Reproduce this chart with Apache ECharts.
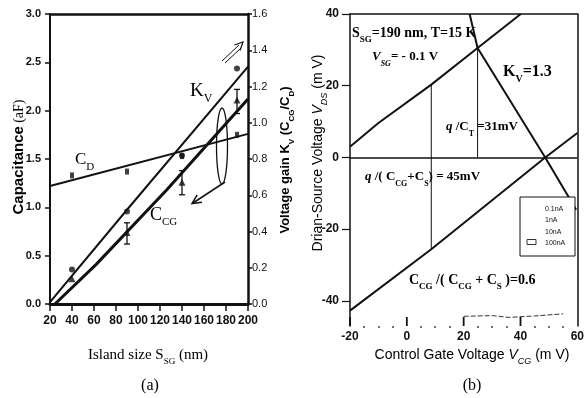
<!DOCTYPE html>
<html><head><meta charset="utf-8">
<script src="https://cdn.jsdelivr.net/npm/echarts@6/dist/echarts.min.js"></script>
<style>html,body{margin:0;padding:0;background:#fff}#c{width:587px;height:398px}</style>
</head><body><div id="c"></div>
<script>
// ---------- Panel (a) data ----------
const islandTicks = [20, 40, 60, 80, 100, 120, 140, 160, 180, 200];
const cdLine = [[20, 1.22], [200, 1.76]];
const kvLine = [[20, 0.01], [90, 0.52], [200, 1.31]];          // right axis (K_V)
const ccgLine = [[24.5, 0], [62, 0.41], [126, 1.18], [200, 2.12]];
const cdPoints = [[40, 1.33], [90, 1.37], [140, 1.53], [190, 1.75]];
const kvPoints = [[40, 0.19], [90, 0.51], [140, 0.82], [190, 1.30]]; // right axis
const ccgPoints = [[40, 0.26], [90, 0.74], [140, 1.26], [190, 2.11]];
const ccgErrors = [[90, 0.62, 0.84], [140, 1.13, 1.38], [190, 1.97, 2.22]];

// ---------- Panel (b) data ----------
const vdsTicks = [-40, -20, 0, 20, 40];
const vcgTicks = [-20, 0, 20, 40];
const riseUpper = [[-20, 3.0], [-10, 9.6], [8.6, 20.3], [24.9, 30.5], [40.1, 40]];
const riseLower = [[-20, -42.7], [8.6, -25.6], [48.7, 0], [60, 6.8]];
const fallLine = [[22.1, 40], [24.9, 30.5], [48.7, 0], [59.6, -14.6]];
const vLineA = [[8.6, 20.3], [8.6, -25.6]];
const vLineB = [[24.9, 30.5], [24.9, 0]];
const bottomTrace = [[20, -44.3], [30, -44.1], [36, -44.6], [45, -44.2], [55, -43.6]];
const legendItems = ['0.1nA', '1nA', '10nA', '100nA'];

const chart = echarts.init(document.getElementById('c'), null, {renderer: 'canvas'});
const K = '#111';
const narrow = '"Liberation Sans Narrow", "Arial Narrow", sans-serif';
const sans = '"Liberation Sans", Arial, sans-serif';
const serif = '"Liberation Serif", "Times New Roman", serif';
const VDS_MIN = -47;

function subRich(fs, family, weight, style) {
  return {
    n: {fontSize: fs, fontFamily: family, fontWeight: weight, fontStyle: style || 'normal', color: K, lineHeight: fs + 8, verticalAlign: 'middle'},
    i: {fontSize: fs, fontFamily: family, fontWeight: weight, fontStyle: 'italic', color: K, lineHeight: fs + 8, verticalAlign: 'middle'},
    s: {fontSize: Math.round(fs * 0.62), fontFamily: family, fontWeight: weight, fontStyle: style || 'normal', color: K, verticalAlign: 'bottom', lineHeight: fs * 0.62 + 2},
    si: {fontSize: Math.round(fs * 0.62), fontFamily: family, fontWeight: weight, fontStyle: 'italic', color: K, verticalAlign: 'bottom', lineHeight: fs * 0.62 + 2}
  };
}
function txt(x, y, text, rich, opts) {
  return Object.assign({type: 'text', x: x, y: y, silent: true,
    style: {text: text, rich: rich, x: 0, y: 0, textAlign: (opts && opts.align) || 'left', textVerticalAlign: 'middle'}}, opts && opts.rot ? {rotation: opts.rot} : {});
}
function arrowHead(tip, from, len, ang) {
  const dx = from[0] - tip[0], dy = from[1] - tip[1];
  const L = Math.hypot(dx, dy), ux = dx / L, uy = dy / L;
  const r = (a) => [tip[0] + len * (ux * Math.cos(a) - uy * Math.sin(a)), tip[1] + len * (ux * Math.sin(a) + uy * Math.cos(a))];
  return [r(ang), tip, r(-ang)];
}

const lineS = (data, xi, yi, w, extra) => Object.assign({type: 'line', xAxisIndex: xi, yAxisIndex: yi, data: data, symbol: 'none', silent: true,
  lineStyle: {color: K, width: w}, z: 3, animation: false}, extra || {});

const option = {
  animation: false,
  grid: [
    {left: 50, right: 339, top: 14, bottom: 94},
    {left: 350, right: 4, top: 14, bottom: 72}
  ],
  xAxis: [
    {gridIndex: 0, type: 'value', min: 20, max: 200, interval: 20,
      axisLine: {onZero: false, lineStyle: {color: K, width: 3}}, axisTick: {show: true, length: 7, lineStyle: {color: K, width: 1.5}},
      axisLabel: {color: K, fontFamily: narrow, fontWeight: 'bold', fontSize: 12, margin: 11, customValues: islandTicks}, splitLine: {show: false}},
    {gridIndex: 1, type: 'value', min: -20, max: 60, interval: 20,
      axisLine: {onZero: false, show: false}, axisTick: {show: false},
      minorTick: {show: true, splitNumber: 4, length: 2, lineStyle: {color: '#444', width: 1.5}},
      axisLabel: {color: K, fontFamily: narrow, fontWeight: 'bold', fontSize: 12, margin: 5}, splitLine: {show: false}},
    {gridIndex: 0, type: 'value', position: 'top', min: 20, max: 200,
      axisLine: {onZero: false, lineStyle: {color: K, width: 2.5}}, axisTick: {show: false}, axisLabel: {show: false}, splitLine: {show: false}},
    {gridIndex: 1, type: 'value', position: 'top', min: -20, max: 60,
      axisLine: {onZero: false, lineStyle: {color: K, width: 1.5}}, axisTick: {show: false}, axisLabel: {show: false}, splitLine: {show: false}}
  ],
  yAxis: [
    {gridIndex: 0, type: 'value', min: 0, max: 3, interval: 0.5,
      axisLine: {onZero: false, lineStyle: {color: K, width: 2}}, axisTick: {show: true, length: 5, lineStyle: {color: K, width: 1.5}},
      axisLabel: {color: K, fontFamily: narrow, fontWeight: 'bold', fontSize: 11, margin: 9, formatter: v => v.toFixed(1)}, splitLine: {show: false}},
    {gridIndex: 0, type: 'value', position: 'right', min: 0, max: 1.6, interval: 0.2,
      axisLine: {onZero: false, lineStyle: {color: K, width: 2.5}}, axisTick: {show: true, length: 4, lineStyle: {color: K, width: 1.5}},
      axisLabel: {color: K, fontFamily: narrow, fontSize: 11, margin: 4, formatter: v => v.toFixed(1)}, splitLine: {show: false}},
    {gridIndex: 1, type: 'value', min: VDS_MIN, max: 40,
      axisLine: {onZero: false, lineStyle: {color: K, width: 1.5}}, axisTick: {show: true, length: 8, customValues: vdsTicks, lineStyle: {color: K, width: 1.2}},
      axisLabel: {color: K, fontFamily: narrow, fontWeight: 'bold', fontSize: 12, margin: 11, customValues: vdsTicks}, splitLine: {show: false}},
    {gridIndex: 1, type: 'value', position: 'right', min: VDS_MIN, max: 40,
      axisLine: {onZero: false, lineStyle: {color: K, width: 1.5}}, axisTick: {show: false}, axisLabel: {show: false}, splitLine: {show: false}}
  ],
  series: [
    lineS(cdLine, 0, 0, 2),
    lineS(kvLine, 0, 1, 2),
    lineS(ccgLine, 0, 0, 3),
    {type: 'scatter', xAxisIndex: 0, yAxisIndex: 0, data: cdPoints, symbol: 'rect', symbolSize: [4, 6], itemStyle: {color: K}, z: 4, silent: true},
    {type: 'scatter', xAxisIndex: 0, yAxisIndex: 1, data: kvPoints, symbol: 'circle', symbolSize: 6, itemStyle: {color: K}, z: 4, silent: true},
    {type: 'scatter', xAxisIndex: 0, yAxisIndex: 0, data: ccgPoints, symbol: 'triangle', symbolSize: 7, itemStyle: {color: K}, z: 4, silent: true},
    {type: 'custom', xAxisIndex: 0, yAxisIndex: 0, data: ccgErrors, silent: true, z: 4,
      renderItem: function (params, api) {
        const x = api.value(0), lo = api.coord([x, api.value(1)]), hi = api.coord([x, api.value(2)]);
        const st = {stroke: K, lineWidth: 1.3};
        return {type: 'group', children: [
          {type: 'line', shape: {x1: lo[0], y1: lo[1], x2: hi[0], y2: hi[1]}, style: st},
          {type: 'line', shape: {x1: lo[0] - 3, y1: lo[1], x2: lo[0] + 3, y2: lo[1]}, style: st},
          {type: 'line', shape: {x1: hi[0] - 3, y1: hi[1], x2: hi[0] + 3, y2: hi[1]}, style: st}
        ]};
      }},
    lineS(riseUpper, 1, 2, 2, {markLine: {silent: true, symbol: 'none', label: {show: false}, lineStyle: {color: K, width: 1.6, type: 'solid'}, data: [{yAxis: 0}]}}),
    lineS(riseLower, 1, 2, 2),
    lineS(fallLine, 1, 2, 2),
    lineS(vLineA, 1, 2, 1),
    lineS(vLineB, 1, 2, 1),
    lineS(bottomTrace, 1, 2, 1, {lineStyle: {color: '#333', width: 1, type: [5, 2]}}),
    // major ticks of the faded bottom axis of panel (b), placed on the axis values
    {type: 'custom', xAxisIndex: 1, yAxisIndex: 2, data: vcgTicks.map(v => [v, VDS_MIN]), silent: true, z: 5,
      renderItem: function (params, api) {
        const p = api.coord([api.value(0), api.value(1)]);
        return {type: 'line', shape: {x1: p[0], y1: p[1], x2: p[0], y2: p[1] - 9}, style: {stroke: K, lineWidth: 1.8}};
      }}
  ],
  graphic: []
};

const G = [];
// Panel (a) titles
G.push(txt(19, 157, '{b|Capacitance} {n|(aF)}', {b: {fontFamily: sans, fontWeight: 'bold', fontSize: 15, color: K}, n: {fontFamily: serif, fontSize: 14, color: K}}, {align: 'center', rot: Math.PI / 2}));
G.push(txt(285, 160, '{n|Voltage gain K}{s|V}{n| (C}{s|CG}{n|/C}{s|D}{n|)}', subRich(13, sans, 'bold'), {align: 'center', rot: Math.PI / 2}));
G.push(txt(148, 355, '{n|Island size S}{s|SG}{n| (nm)}', subRich(15, serif, 'normal'), {align: 'center'}));
G.push(txt(150, 386, '{n|(a)}', {n: {fontFamily: serif, fontSize: 16, color: K}}, {align: 'center'}));
// Panel (a) labels
G.push(txt(75, 160, '{n|C}{s|D}', subRich(17, serif, 'normal')));
G.push(txt(190, 91, '{n|K}{s|V}', subRich(19, serif, 'normal')));
G.push(txt(150, 215, '{n|C}{s|CG}', subRich(18, serif, 'normal')));
// ellipse + arrows
G.push({type: 'ellipse', shape: {cx: 222, cy: 146, rx: 5.5, ry: 38}, style: {fill: 'none', stroke: K, lineWidth: 1.3}, silent: true});
G.push({type: 'polyline', shape: {points: [[225, 182], [193, 203]]}, style: {stroke: K, lineWidth: 1.5, fill: 'none'}, silent: true});
G.push({type: 'polyline', shape: {points: arrowHead([192, 203.5], [225, 182], 10, 0.45)}, style: {stroke: K, lineWidth: 1.5, fill: 'none'}, silent: true});
G.push({type: 'polyline', shape: {points: [[222, 61], [239, 45]]}, style: {stroke: K, lineWidth: 1, fill: 'none'}, silent: true});
G.push({type: 'polyline', shape: {points: [[225, 63], [241, 48]]}, style: {stroke: K, lineWidth: 1, fill: 'none'}, silent: true});
G.push({type: 'polyline', shape: {points: arrowHead([243, 42], [223, 62], 9, 0.45)}, style: {stroke: K, lineWidth: 1.2, fill: 'none'}, silent: true});

// Panel (b) titles
G.push(txt(318, 153, '{n|Drian-Source Voltage }{i|V}{si|DS}{n| (m V)}', subRich(14, sans, 'normal'), {align: 'center', rot: Math.PI / 2}));
G.push(txt(472, 355, '{n|Control Gate Voltage }{i|V}{si|CG}{n| (m V)}', subRich(14, sans, 'normal'), {align: 'center'}));
G.push(txt(472, 386, '{n|(b)}', {n: {fontFamily: serif, fontSize: 16, color: K}}, {align: 'center'}));
// Panel (b) annotations
G.push(txt(352, 33, '{n|S}{s|SG}{n|=190 nm, T=15 K}', subRich(14, serif, 'bold')));
G.push(txt(372, 57, '{i|V}{si|SG}{n|= - 0.1 V}', subRich(13, serif, 'bold')));
G.push(txt(503, 72, '{n|K}{s|V}{n|=1.3}', subRich(16, serif, 'bold')));
G.push(txt(446, 127, '{i|q}{n| /C}{s|T}{n| =31mV}', subRich(13, serif, 'bold')));
G.push(txt(365, 177, '{i|q}{n| /( C}{s|CG}{n|+C}{s|S}{n|) = 45mV}', subRich(13, serif, 'bold')));
G.push(txt(409, 280, '{n|C}{s|CG}{n| /( C}{s|CG}{n| + C}{s|S}{n| )=0.6}', subRich(14, serif, 'bold')));
// legend box
G.push({type: 'rect', shape: {x: 520, y: 197, width: 55, height: 59}, style: {fill: '#fff', stroke: K, lineWidth: 1}, silent: true, z: 10});
legendItems.forEach((t, i) => {
  G.push({type: 'text', x: 545, y: 209 + i * 11.3, silent: true, z: 11,
    style: {text: t, x: 0, y: 0, textVerticalAlign: 'middle', fontSize: 7, fontFamily: sans, fill: K}});
});
G.push({type: 'rect', shape: {x: 527, y: 239.5, width: 9, height: 5}, style: {fill: 'none', stroke: '#333', lineWidth: 1}, silent: true, z: 11});
option.graphic = G;
chart.setOption(option);
</script></body></html>
